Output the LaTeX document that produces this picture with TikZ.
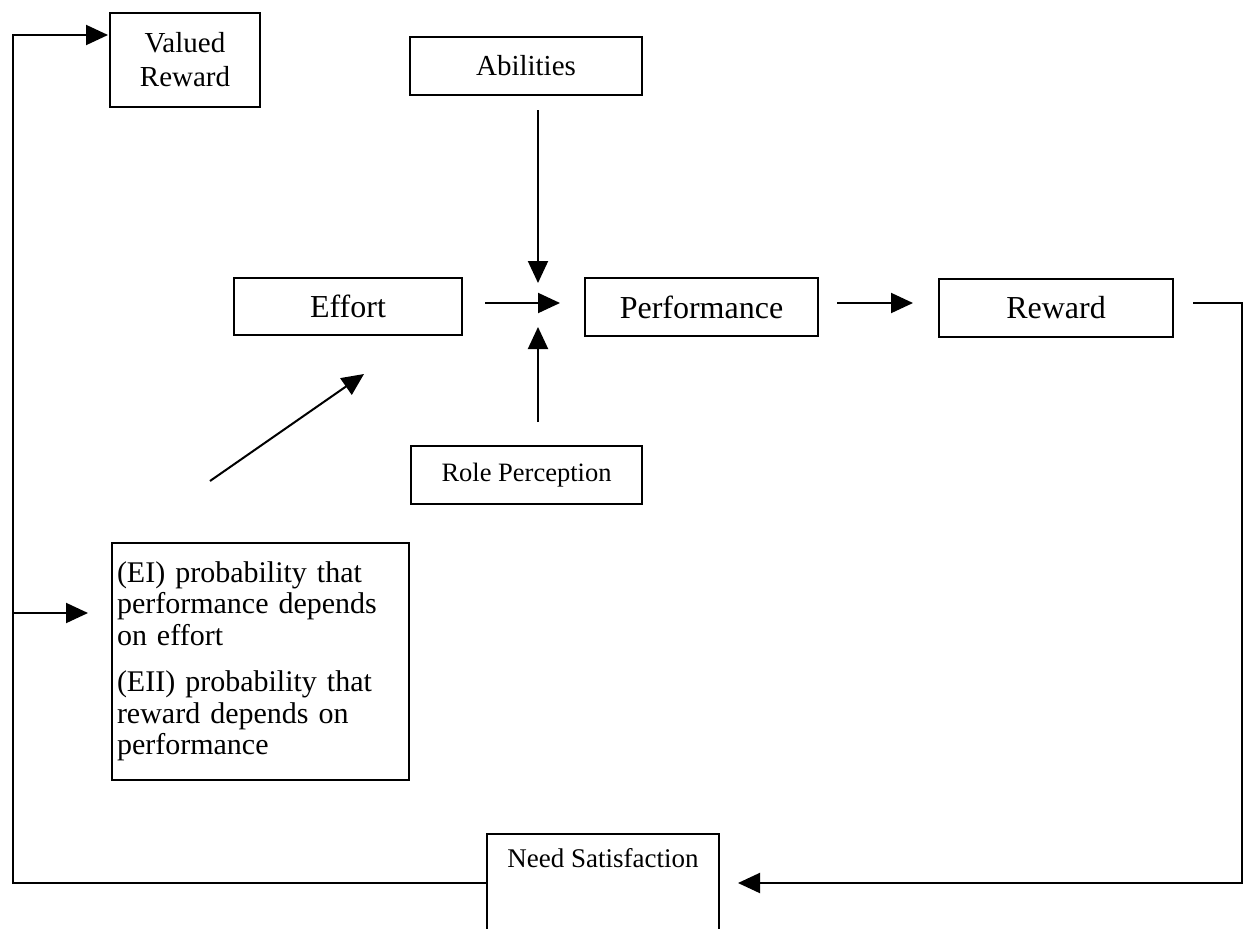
\documentclass[tikz,border=0pt]{standalone}
\usepackage{fontspec}
\setmainfont{Liberation Serif}
\usetikzlibrary{arrows.meta}
\begin{document}
\begin{tikzpicture}[x=1pt,y=-1pt,
  box/.style={draw,line width=2pt,inner sep=0pt,align=center},
  big/.style={font=\fontsize{32}{38}\selectfont},
  arr/.style={line width=2pt,-{Triangle[length=22pt,width=20pt]}},
  ln/.style={line width=2pt}]
\useasboundingbox (0,0) rectangle (1245,929);

% boxes
\node[box,minimum width=150pt,minimum height=94pt,font=\fontsize{29}{34}\selectfont] (valued) at (185,60) {Valued\\Reward};
\node[box,minimum width=232pt,minimum height=58pt,font=\fontsize{29}{34}\selectfont] (abil) at (526,66) {Abilities};
\node[box,big,minimum width=228pt,minimum height=57pt] (effort) at (348,306.5) {Effort};
\node[box,big,minimum width=233pt,minimum height=58pt] (perf) at (701.5,307) {Performance};
\node[box,big,minimum width=234pt,minimum height=58pt] (reward) at (1056,308) {Reward};
\node[box,minimum width=231pt,minimum height=58pt,font=\fontsize{26.5}{31}\selectfont] (role) at (526.5,475) {Role Perception};
\node[draw,line width=2pt,inner xsep=5pt,inner ysep=0pt,text width=287pt,align=left,minimum height=237pt,
      font=\fontsize{30}{31.5}\selectfont] (ei) at (260.5,661.5)
  {(EI) probability that\\performance depends\\on effort\\[15pt](EII) probability that\\reward depends on\\performance\\[3pt]};

% need satisfaction (open at the bottom)
\node[font=\fontsize{27}{32}\selectfont] (need) at (603,858) {Need Satisfaction};
\coordinate (nsBL) at (487,929);
\coordinate (nsTL) at (487,834);
\coordinate (nsTR) at (719,834);
\coordinate (nsBR) at (719,929);
\draw[ln] (nsBL) -- (nsTL) -- (nsTR) -- (nsBR);

% free connector ends
\coordinate (nsL) at (487,883);
\coordinate (lb) at (13,883);
\coordinate (lt) at (13,35);
\coordinate (vin) at (108,35);
\coordinate (lm) at (13,613);
\coordinate (eiin) at (88,613);
\coordinate (rs) at (1193,303);
\coordinate (rt) at (1242,303);
\coordinate (rb) at (1242,883);
\coordinate (nsin) at (738,883);
\coordinate (ab1) at (538,110);
\coordinate (ab2) at (538,283);
\coordinate (ef1) at (485,303);
\coordinate (ef2) at (560,303);
\coordinate (ro1) at (538,422);
\coordinate (ro2) at (538,327);
\coordinate (pr1) at (837,303);
\coordinate (pr2) at (913,303);
\coordinate (dg1) at (210,481);
\coordinate (dg2) at (364,374);

% connectors
\draw[arr] (nsL) -- (lb) -- (lt) -- (vin);
\draw[arr] (lm) -- (eiin);
\draw[arr] (rs) -- (rt) -- (rb) -- (nsin);
\draw[arr] (ab1) -- (ab2);
\draw[arr] (ef1) -- (ef2);
\draw[arr] (ro1) -- (ro2);
\draw[arr] (pr1) -- (pr2);
\draw[arr] (dg1) -- (dg2);
\end{tikzpicture}
\end{document}
